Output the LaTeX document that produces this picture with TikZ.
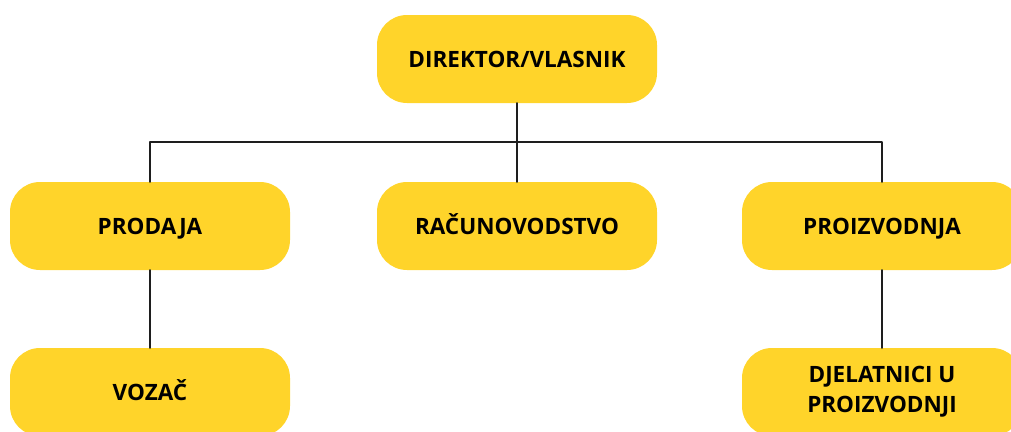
\documentclass[tikz,border=0pt]{standalone}
\usepackage{fontspec}
\setmainfont{Open Sans}
\usetikzlibrary{positioning}
\definecolor{zuta}{RGB}{255,212,42}
\definecolor{crta}{RGB}{30,30,30}
\tikzset{
	odjel/.style={fill=zuta,rounded corners=30pt,minimum width=280pt,minimum height=88pt,
		align=center,font=\fontsize{22.5}{30}\selectfont\bfseries,text=black,
		text height=16pt,text depth=0pt},
	veza/.style={draw=crta,line width=2.4pt}
}

\begin{document}
\begin{tikzpicture}[x=1pt,y=1pt,line cap=round,line join=round]
		\useasboundingbox (0,0) rectangle (1011,-431);
		\clip (0,0) rectangle (1011,-431);
		\node[odjel] (direktor) at (517,-59) {DIREKTOR/VLASNIK};
		\node[odjel] (prodaja) at (150,-226) {PRODAJA};
		\node[odjel] (racunovodstvo) at (517,-226) {RAČUNOVODSTVO};
		\node[odjel] (proizvodnja) at (882,-226) {PROIZVODNJA};
		\node[odjel] (vozac) at (150,-392) {VOZAČ};
		\node[odjel,text height=,text depth=] (djelatnici) at (882,-392) {DJELATNICI U\\PROIZVODNJI};
		\draw[veza] (direktor) -- (racunovodstvo);
		\draw[veza] (prodaja.north) -- ++(0,40) -| (proizvodnja.north);
		\draw[veza] (prodaja) -- (vozac);
		\draw[veza] (proizvodnja) -- (djelatnici);
	\end{tikzpicture}
\end{document}
